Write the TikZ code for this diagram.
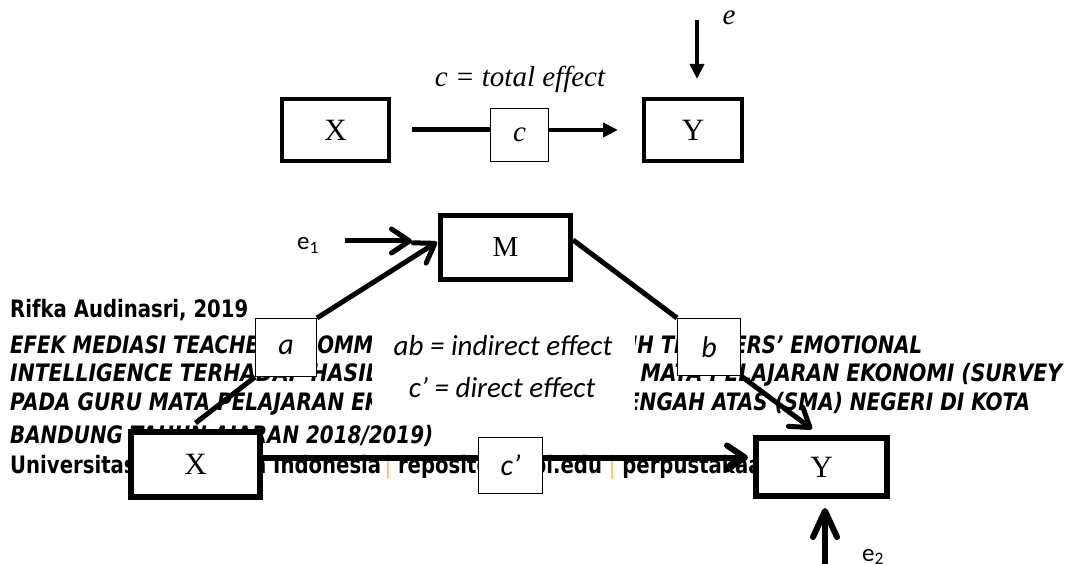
\documentclass[tikz,border=0pt]{standalone}
\usepackage{fontspec}
\usepackage{graphicx}
\setmainfont{Liberation Serif}
\newfontfamily\calfont{Carlito}
\newfontfamily\tahfont{DejaVu Sans}[BoldFont={DejaVu Sans Bold},ItalicFont={DejaVu Sans Oblique},BoldItalicFont={DejaVu Sans Bold Oblique}]
\usetikzlibrary{arrows.meta,calc}
\definecolor{barc}{RGB}{247,192,62}
\newcommand\fw[2]{\resizebox{#1}{\height}{#2}}
\begin{document}
\begin{tikzpicture}[x=1pt,y=-1pt,
  tbox/.style={draw,fill=white,inner sep=0pt,line width=4pt,outer sep=2pt},
  mbox/.style={draw,fill=white,inner sep=0pt,line width=5pt,outer sep=2.5pt},
  hbox/.style={draw,fill=white,inner sep=0pt,line width=6pt,outer sep=3pt},
  lbox/.style={draw,fill=white,inner sep=0pt,line width=1pt,outer sep=0.5pt},
  serifbig/.style={font=\fontsize{31}{34}\selectfont},
  labfont/.style={font=\calfont\itshape\fontsize{30}{33}\selectfont},
  foot/.style={anchor=base west,inner sep=0pt,font=\tahfont\bfseries\fontsize{24}{28}\selectfont},
  tline/.style={line width=5pt},
  tarrow/.style={line width=4.5pt,-{Triangle[length=15pt,width=14pt]}},
  bline/.style={line width=5pt},
  barrow/.style={line width=5pt,-{Straight Barb[length=18pt,width=24pt,line cap=round,line join=round]}},
  barrowb/.style={line width=6pt,-{Straight Barb[length=26pt,width=24pt,line cap=round,line join=round]}}
]
\useasboundingbox (0,0) rectangle (1071,564);

% footer text (background)
\node[foot] (f1) at (10,317) {\fw{238pt}{Rifka Audinasri, 2019}};
\node[foot] (f2) at (10,353) {\fw{912pt}{\itshape EFEK MEDIASI TEACHERS’ COMMITMENT PADA PENGARUH TEACHERS’ EMOTIONAL}};
\node[foot] (f3) at (10,381) {\fw{1052pt}{\itshape INTELLIGENCE TERHADAP HASIL BELAJAR SISWA PADA MATA PELAJARAN EKONOMI (SURVEY}};
\node[foot] (f4) at (10,410) {\fw{1020pt}{\itshape PADA GURU MATA PELAJARAN EKONOMI SEKOLAH MENENGAH ATAS (SMA) NEGERI DI KOTA}};
\node[foot] (f5) at (10,443) {\fw{423pt}{\itshape BANDUNG TAHUN AJARAN 2018/2019)}};
\node[foot] (f6) at (10,473) {\scalebox{0.82}[1]{Universitas Pendidikan Indonesia\,{\mdseries\color{barc}|}\ repository.upi.edu\ {\mdseries\color{barc}|}\ perpustakaan.upi.edu}};

% label area
\node[fill=white,inner sep=0pt,minimum width=263pt,minimum height=90pt] (lab) at (503.5,375) {};
\node[anchor=base,inner sep=0pt,font=\calfont\itshape\fontsize{29}{32}\selectfont] (ab) at (503,355) {ab = indirect effect};
\node[anchor=base,inner sep=0pt,font=\calfont\itshape\fontsize{29}{32}\selectfont] (cd) at (502,397) {c’ = direct effect};

% top diagram
\node[tbox,serifbig,minimum width=107pt,minimum height=62pt] (X1) at (335.5,130) {X};
\node[tbox,serifbig,minimum width=98pt,minimum height=62pt] (Y1) at (693,130) {Y};
\node[lbox,font=\itshape\fontsize{29}{32}\selectfont,minimum width=58pt,minimum height=53pt] (c) at (519.5,135) {c};
\node[anchor=base,inner sep=0pt,font=\itshape\fontsize{29}{32}\selectfont] (tot) at (520,87) {c = total effect};
\node[anchor=base,inner sep=0pt,font=\itshape\fontsize{29}{32}\selectfont] (eL) at (729,25) {e};
\coordinate (eT) at (697,20);
\draw[tline] ($(X1.east)+(21,0)$) -- (c.west |- X1.east);
\draw[tarrow] (c.east |- X1.east) -- ($(Y1.west)+(-24,0)$);
\draw[tarrow] (eT) -- ($(Y1.north)+(4,-18)$);

% bottom diagram
\node[mbox,font=\fontsize{29}{32}\selectfont,minimum width=130pt,minimum height=64pt] (M) at (505.5,247.5) {M};
\node[hbox,serifbig,minimum width=129pt,minimum height=65pt] (X2) at (195.5,464.5) {X};
\node[hbox,serifbig,minimum width=131pt,minimum height=58pt] (Y2) at (821.5,467) {Y};
\node[lbox,labfont,minimum width=61pt,minimum height=58pt] (a) at (286,347.5) {a};
\node[lbox,labfont,minimum width=63pt,minimum height=57pt] (b) at (709,347) {b};
\node[lbox,labfont,minimum width=64pt,minimum height=56pt] (cp) at (510.5,465.5) {c’};
\node[anchor=base west,inner sep=0pt,font=\calfont\fontsize{25}{28}\selectfont] (e1) at (297,250) {e\textsubscript{1}};
\node[anchor=base west,inner sep=0pt,font=\calfont\fontsize{25}{28}\selectfont] (e2) at (862,561) {e\textsubscript{2}};

\coordinate (e1s) at (345,241);
\draw[barrow] (e1s) -- ($(M.west)+(-26,-6.5)$);
\draw[bline] ($(X2.north)+(0,-6)$) -- (a.south west);
\draw[barrow] (a.north east) -- ($(M.west)+(-1,-5.5)$);
\draw[bline] ($(M.east)+(0,-7.5)$) -- (b.north west);
\draw[barrow] (b.south east) -- ($(Y2.north)+(-9.5,-6)$);
\coordinate (cL) at ($(X2.east)+(0,-7)$);
\draw[line width=6pt] (cL) -- (cL -| cp.west);
\draw[line width=6pt,-{Straight Barb[length=18pt,width=24pt,line cap=round,line join=round]}] (cL -| cp.east) -- ($(cL -| Y2.west)+(-5,0)$);
\coordinate (e2s) at (825,572);
\draw[barrowb] (e2s) -- ($(Y2.south)+(3.5,9)$);
\end{tikzpicture}
\end{document}
